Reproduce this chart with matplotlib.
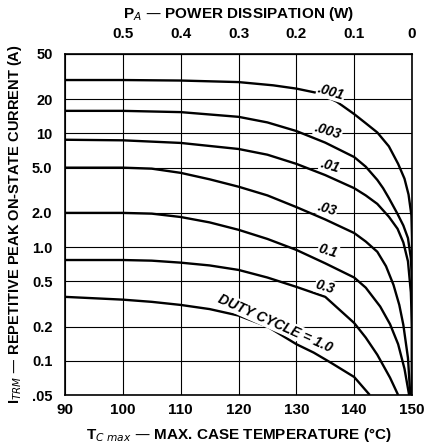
import matplotlib
matplotlib.use("Agg")
import matplotlib.pyplot as plt
import numpy as np

plt.rcParams['font.family'] = ['Liberation Sans', 'DejaVu Sans']

# case temperature (deg C) and repetitive peak current (A)
t_001 = [90, 100, 110, 120, 126, 130, 134, 137, 140, 142, 144, 146, 147.6, 148.7, 149.4, 149.9, 150, 150]
i_001 = [29.5, 29.5, 29.2, 28.3, 26.5, 24.8, 22.5, 19.0, 14.8, 12.3, 10.2, 7.7, 5.4, 4.0, 2.9, 1.9, 1.2, 0.05]

t_003 = [90, 100, 110, 120, 125, 130, 135, 140, 142, 144, 145, 146, 147.4, 148.5, 149.3, 149.8, 150, 150]
i_003 = [15.8, 15.8, 15.4, 14.0, 12.5, 10.5, 8.3, 6.2, 5.1, 3.9, 3.3, 2.7, 2.0, 1.55, 1.2, 0.8, 0.5, 0.05]

t_01 = [90, 100, 110, 120, 125, 130, 135, 140, 142, 144, 146, 147.5, 148.5, 149.3, 149.8, 150, 150]
i_01 = [8.8, 8.7, 8.25, 7.3, 6.5, 5.4, 4.3, 3.3, 2.85, 2.4, 1.85, 1.45, 1.1, 0.75, 0.4, 0.2, 0.05]

t_03 = [90, 100, 105, 110, 115, 120, 125, 130, 135, 140, 142, 144, 145.5, 146.8, 147.8, 148.5, 149.3, 149.7]
i_03 = [5.0, 5.0, 4.9, 4.5, 3.95, 3.4, 2.85, 2.25, 1.75, 1.33, 1.12, 0.91, 0.68, 0.465, 0.31, 0.207, 0.106, 0.05]

t_1 = [90, 100, 105, 110, 115, 120, 125, 130, 135, 140, 142, 144.5, 146.2, 147.6, 148.7, 149.5]
i_1 = [2.0, 2.0, 1.97, 1.84, 1.65, 1.42, 1.18, 0.945, 0.72, 0.54, 0.44, 0.30, 0.21, 0.14, 0.085, 0.05]

t_3 = [90, 100, 105, 110, 115, 120, 125, 130, 135, 140, 142, 144, 146.2, 147.6]
i_3 = [0.77, 0.77, 0.76, 0.73, 0.69, 0.63, 0.54, 0.447, 0.365, 0.215, 0.16, 0.113, 0.071, 0.05]

t_10 = [90, 100, 105, 110, 115, 120, 125, 130, 133, 136, 140, 142.7]
i_10 = [0.365, 0.345, 0.33, 0.31, 0.285, 0.25, 0.2, 0.14, 0.118, 0.096, 0.072, 0.05]

curves = [(t_001, i_001), (t_003, i_003), (t_01, i_01), (t_03, i_03),
          (t_1, i_1), (t_3, i_3), (t_10, i_10)]

# curve labels: text, temperature, current, angle
labels = [('.001', 136.0, 23.2, -17), ('.003', 135.5, 10.5, -17),
          ('.01', 135.8, 5.2, -17), ('.03', 135.3, 2.17, -17),
          ('0.1', 135.5, 0.925, -17), ('0.3', 135.0, 0.447, -17),
          ('DUTY CYCLE = 1.0', 126.3, 0.215, -24)]

y_ticks = [50, 20, 10, 5, 2, 1, 0.5, 0.2, 0.1, 0.05]
y_ticklabels = ['50', '20', '10', '5.0', '2.0', '1.0', '0.5', '0.2', '0.1', '.05']
x_ticks = [90, 100, 110, 120, 130, 140, 150]
p_ticks = [0.5, 0.4, 0.3, 0.2, 0.1, 0]
p_ticklabels = ['0.5', '0.4', '0.3', '0.2', '0.1', '0']

fig = plt.figure(figsize=(4.27, 4.48), dpi=100)
ax = fig.add_axes([0.1522, 0.1183, 0.8127, 0.7612])

for t, i in curves:
    ax.plot(t, i, color='black', lw=1.7, solid_capstyle='butt', zorder=3)

for txt, t, i, ang in labels:
    ax.text(t, i, txt, rotation=ang, ha='center', va='center', fontsize=10,
            fontweight='bold', fontstyle='italic', zorder=4,
            bbox=dict(facecolor='white', edgecolor='none', pad=0.6))

ax.set_yscale('log')
ax.set_xlim(90, 150)
ax.set_ylim(0.05, 50)
ax.set_xticks(x_ticks)
ax.set_xticklabels([str(x) for x in x_ticks], fontsize=11, fontweight='bold')
ax.set_yticks(y_ticks)
ax.set_yticklabels(y_ticklabels, fontsize=10.5, fontweight='bold')
ax.yaxis.set_minor_locator(matplotlib.ticker.NullLocator())
ax.tick_params(axis='x', length=0, pad=6)
ax.tick_params(axis='y', length=0, pad=9)
ax.grid(True, color='black', lw=0.8, zorder=1)
for s in ax.spines.values():
    s.set_linewidth(1.2)

top = ax.secondary_xaxis('top', functions=(lambda t: (150 - t) / 100.0,
                                           lambda p: 150 - 100.0 * p))
top.set_xticks(p_ticks)
top.set_xticklabels(p_ticklabels, fontsize=11, fontweight='bold')
top.tick_params(length=0, pad=9)
top.set_xlabel('P$_A$ — POWER DISSIPATION (W)', fontsize=11, fontweight='bold', labelpad=7)

ax.set_xlabel('T$_{C\\ max}$ — MAX. CASE TEMPERATURE (°C)', fontsize=11,
              fontweight='bold', labelpad=6)
ax.set_ylabel('I$_{TRM}$ — REPETITIVE PEAK ON-STATE CURRENT (A)', fontsize=10.5,
              fontweight='bold', labelpad=6)

fig.savefig('out.png', dpi=100)
